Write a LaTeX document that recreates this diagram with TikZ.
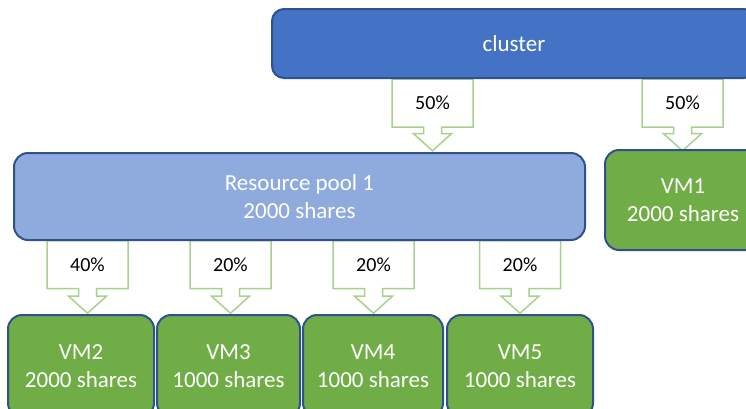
\documentclass[tikz,border=0pt]{standalone}
\usepackage{fontspec}
\setmainfont{Carlito}
\usetikzlibrary{shapes.arrows}
\definecolor{clusterblue}{HTML}{4472C4}
\definecolor{poolblue}{HTML}{8FAADC}
\definecolor{vmgreen}{HTML}{70AD47}
\definecolor{edgeblue}{HTML}{2F528F}
\definecolor{sharegreen}{HTML}{A9D18E}

\begin{document}
\begin{tikzpicture}[x=1pt,y=-1pt,
  box/.style={draw=edgeblue,line width=2pt,rounded corners=14pt,text=white,align=center,
    font=\fontsize{23}{28}\selectfont,inner sep=0pt},
  vm/.style={box,fill=vmgreen,minimum height=102pt},
  share/.style={shape=arrow box,draw=sharegreen,line width=1.5pt,fill=white,inner sep=0pt,
    minimum width=81pt,minimum height=48pt,arrow box arrows={south:23pt},
    arrow box shaft width=18pt,arrow box head extend=10pt,arrow box tip angle=96,
    font=\fontsize{20}{24}\selectfont}]
  \clip(0,0)rectangle(746,408);
  \node[share](top1) at (432.5,103) {50\%};
  \node[share](top2) at (682.5,103) {50\%};
  \foreach\x/\p [count=\i] in {87.5/40,230.5/20,373.5/20,520/20}
     \node[share,arrow box arrows={south:24pt}](low\i) at (\x,264.5) {\p\%};
  \node[box,fill=clusterblue,minimum width=484pt,minimum height=69pt,rounded corners=12pt](cluster) at (514,43.5) {cluster};
  \node[box,fill=poolblue,minimum width=571pt,minimum height=87pt](pool) at (299.5,196.5) {Resource pool 1\\2000 shares};
  \node[vm,minimum width=156pt,minimum height=100pt](vm1) at (683,200) {VM1\\2000 shares};
  \foreach\x/\w/\n/\s in {81/146/2/2000,228.5/143/3/1000,373/140/4/1000,520/146/5/1000}
     \node[vm,minimum width=\w pt](vm\n) at (\x,366) {VM\n\\\s{} shares};
\end{tikzpicture}
\end{document}
